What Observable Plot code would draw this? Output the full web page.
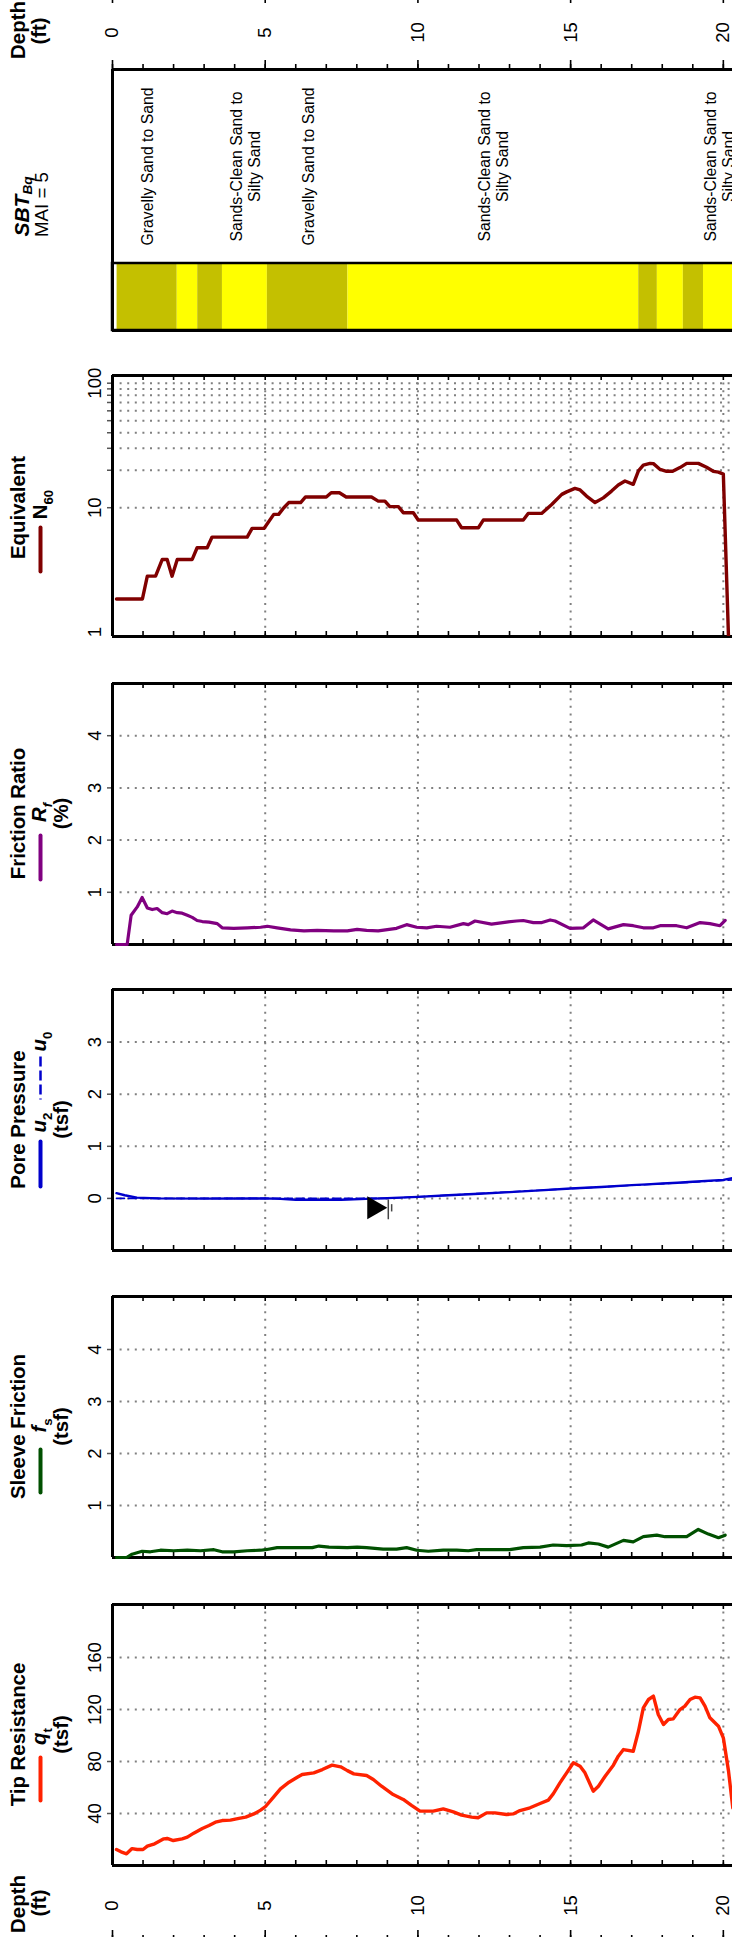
<!DOCTYPE html>
<html><head><meta charset="utf-8">
<script src="https://cdn.jsdelivr.net/npm/d3@7"></script>
<script src="https://cdn.jsdelivr.net/npm/@observablehq/plot@0.6"></script>
<style>
html,body{margin:0;padding:0;background:#fff;}
#chart{position:relative;width:732px;height:1937px;overflow:hidden;background:#fff;}
#chart svg{position:absolute;left:0;overflow:visible;}
</style></head><body><div id="chart"></div>
<script>
// ---------------- DATA (depth in ft, value) ----------------
const depthLabels = [0, 5, 10, 15, 20];
const depthMinor = [0,1,2,3,4,5,6,7,8,9,10,11,12,13,14,15,16,17,18,19,20];
const depthGrid = [5, 10, 15, 20];

const sbtTop    = [0.15, 2.12, 2.79, 3.60, 5.07, 7.71, 17.23, 17.84, 18.69, 19.35];
const sbtBottom = [2.12, 2.79, 3.60, 5.07, 7.71, 17.23, 17.84, 18.69, 19.35, 20.40];
const sbtZone   = ["G","S","G","S","G","S","G","S","G","S"];
const sbtZoneNames = ["G", "S"];
const sbtLabelDepth = [1.15, 4.35, 6.40, 12.47, 19.87];
const sbtLabelText = ["Gravelly Sand to Sand", "Sands-Clean Sand to\nSilty Sand", "Gravelly Sand to Sand", "Sands-Clean Sand to\nSilty Sand", "Sands-Clean Sand to\nSilty Sand"];

const n60Series = [[0.13,1.85],[0.98,1.85],[1.14,2.82],[1.41,2.82],[1.63,3.84],[1.79,3.84],[1.95,2.82],[2.12,3.84],[2.61,3.84],[2.77,4.77],[3.1,4.77],[3.26,5.81],[4.41,5.81],[4.57,6.82],[4.96,6.82],[5.28,8.84],[5.44,8.84],[5.61,10],[5.77,11],[6.16,11],[6.32,12.2],[7.0,12.2],[7.16,13.2],[7.43,13.2],[7.65,12.2],[8.48,12.2],[8.7,11.3],[8.92,11.3],[9.08,10.2],[9.36,10.2],[9.52,9.12],[9.85,9.12],[10.01,7.96],[11.27,7.96],[11.43,6.9],[11.98,6.9],[12.14,7.96],[13.45,7.96],[13.61,9.0],[14.05,9.0],[14.38,10.6],[14.71,12.8],[14.87,13.4],[15.14,14.3],[15.31,13.9],[15.52,12.4],[15.8,11.0],[16.07,12.0],[16.34,13.6],[16.56,15.2],[16.78,16.4],[17.05,15.4],[17.22,19.8],[17.38,22.0],[17.6,22.7],[17.71,22.6],[17.93,20.3],[18.14,19.6],[18.34,19.6],[18.58,21.0],[18.8,22.7],[19.18,22.7],[19.45,21.1],[19.67,19.6],[19.84,19.3],[20.0,18.6],[20.17,0.9]];
const n60Labels = [1, 10, 100];
const n60Grid = [10, 20, 30, 40, 50, 60, 70, 80, 90, 100];

const frSeries = [[0.13,0],[0.48,0],[0.61,0.56],[0.81,0.72],[0.97,0.9],[1.14,0.7],[1.3,0.67],[1.46,0.69],[1.63,0.61],[1.79,0.59],[1.95,0.64],[2.12,0.61],[2.28,0.6],[2.45,0.56],[2.61,0.52],[2.77,0.46],[2.94,0.44],[3.16,0.43],[3.43,0.4],[3.59,0.32],[3.97,0.31],[4.41,0.32],[4.85,0.33],[5.07,0.35],[5.39,0.32],[5.83,0.28],[6.27,0.26],[6.7,0.27],[7.25,0.26],[7.69,0.26],[8.01,0.29],[8.32,0.27],[8.7,0.26],[9.3,0.31],[9.63,0.38],[9.96,0.33],[10.29,0.32],[10.61,0.35],[11.05,0.33],[11.49,0.4],[11.65,0.38],[11.87,0.45],[12.41,0.39],[12.9,0.43],[13.23,0.45],[13.45,0.46],[13.78,0.42],[14.06,0.42],[14.33,0.47],[14.49,0.45],[14.98,0.31],[15.42,0.32],[15.74,0.47],[16.23,0.3],[16.73,0.38],[17.05,0.36],[17.38,0.32],[17.71,0.32],[17.93,0.36],[18.47,0.36],[18.8,0.32],[19.24,0.42],[19.56,0.4],[19.89,0.36],[20.06,0.46]];
const frLabels = [1, 2, 3, 4];

const u2Series = [[0.13,0.1],[0.4,0.06],[0.8,0.015],[1.5,0.0],[3,-0.005],[5,0],[5.5,-0.01],[6,-0.025],[7.5,-0.025],[8.3,-0.01],[9,0.005],[10,0.03],[11,0.06],[12,0.09],[13,0.12],[14,0.155],[15,0.19],[16,0.22],[17,0.255],[17.5,0.27],[18,0.285],[18.5,0.3],[19,0.32],[20,0.355],[20.3,0.39]];
const u0Series = [[0.13,0],[9.0,0],[20.3,0.354]];
const waterTable = [[8.56, -0.18]];
const waterTableMarks = [[9.03, -0.03, -0.41], [9.14, -0.12, -0.26]];
const ppLabels = [0, 1, 2, 3];

const fsSeries = [[0.13,0],[0.46,0],[0.64,0.064],[0.97,0.12],[1.24,0.11],[1.57,0.14],[2.0,0.13],[2.45,0.14],[2.88,0.13],[3.32,0.15],[3.59,0.11],[3.97,0.11],[4.41,0.13],[4.85,0.14],[5.01,0.15],[5.39,0.19],[5.94,0.19],[6.54,0.19],[6.76,0.22],[7.09,0.2],[7.69,0.19],[8.01,0.2],[8.32,0.19],[8.86,0.16],[9.3,0.16],[9.63,0.19],[9.96,0.14],[10.34,0.12],[10.83,0.14],[11.27,0.14],[11.65,0.13],[11.92,0.15],[13.01,0.15],[13.45,0.19],[14.0,0.2],[14.43,0.24],[14.87,0.23],[15.36,0.24],[15.58,0.28],[15.91,0.26],[16.23,0.2],[16.73,0.33],[17.05,0.3],[17.38,0.4],[17.82,0.43],[18.09,0.4],[18.53,0.4],[18.8,0.4],[19.18,0.54],[19.51,0.45],[19.84,0.38],[20.06,0.43]];
const fsLabels = [1, 2, 3, 4];

const qtSeries = [[0.13,12.3],[0.28,10.5],[0.46,9],[0.64,13],[0.81,12.3],[1.0,12.3],[1.14,14.9],[1.38,16.7],[1.68,20.5],[1.79,20.8],[1.99,19.2],[2.28,20.5],[2.45,21.8],[2.66,24.9],[2.94,28.5],[3.16,30.8],[3.37,33.3],[3.59,34.6],[3.86,34.9],[4.14,36.2],[4.36,37.2],[4.63,39.7],[4.85,42.6],[5.01,45.4],[5.23,51.5],[5.5,59],[5.78,64.1],[6.05,67.9],[6.21,70],[6.59,71.3],[6.87,73.8],[7.19,77.2],[7.47,75.9],[7.69,73],[7.9,70.5],[8.32,69.2],[8.54,66.2],[8.81,61],[9.19,54.6],[9.52,50.8],[9.79,46.2],[10.07,41.8],[10.5,41.8],[10.83,43.6],[11.16,41.3],[11.43,38.7],[11.76,37.2],[11.97,36.7],[12.25,40.5],[12.52,40.5],[12.9,39.2],[13.12,39.7],[13.34,42.3],[13.67,44.4],[14.0,47.7],[14.27,50.3],[14.43,55.1],[14.65,63.6],[14.87,71.3],[15.09,79],[15.31,76.4],[15.47,71.3],[15.74,57.2],[15.91,61],[16.13,68.7],[16.4,77.2],[16.56,84.1],[16.73,89.2],[17.05,87.9],[17.22,103.3],[17.38,121.3],[17.55,127.7],[17.71,130.3],[17.87,116.2],[18.04,108.5],[18.2,112.3],[18.36,112.8],[18.58,120],[18.74,122.6],[18.91,127.7],[19.07,129.5],[19.24,129],[19.4,122.6],[19.56,113.6],[19.84,107.2],[20.0,98.2],[20.17,72.6],[20.31,44.4]];
const qtLabels = [40, 80, 120, 160];

// ---------------- LAYOUT ----------------
const FONT = '"Liberation Sans", Arial, Helvetica, sans-serif';
const chart = document.getElementById("chart");
const W = 732, ML = 112, FH = 261, FW = W - ML;
const GRID = "#808080";
const xDomain = [0, 20.3];

function make(top, height, marginTop, y, marks) {
  const svg = Plot.plot({
    width: W, height, marginLeft: ML, marginRight: 0, marginTop,
    marginBottom: height - marginTop - FH,
    x: {domain: xDomain, axis: null},
    y: {...y, axis: null},
    style: {fontFamily: FONT, fontSize: "18.5px", background: "none", overflow: "visible", color: "black"},
    marks
  });
  svg.style.position = "absolute";
  svg.style.top = top + "px";
  svg.style.left = "0px";
  chart.appendChild(svg);
  return svg;
}

function frameMarks(yEnds) {
  return [
    Plot.ruleY(yEnds, {stroke: "black", strokeWidth: 3}),
    Plot.ruleX([0], {stroke: "black", strokeWidth: 3})
  ];
}

function panelMarks(yGrid, yLabels, yEnds, fmt = d => d) {
  return [
    Plot.ruleX(depthGrid, {stroke: GRID, strokeWidth: 2, strokeDasharray: "2,5.6"}),
    Plot.ruleY(yGrid, {stroke: GRID, strokeWidth: 2, strokeDasharray: "2,5.6"}),
    Plot.tickX(depthMinor, {x: d => d, insetBottom: FH - 5, stroke: "black", strokeWidth: 1.6}),
    Plot.tickX(depthMinor, {x: d => d, insetTop: FH - 5, stroke: "black", strokeWidth: 1.6}),
    Plot.tickY(yGrid, {y: d => d, insetLeft: -5, insetRight: FW, stroke: "#555", strokeWidth: 1.5}),
    Plot.text(yLabels, {y: d => d, text: fmt, frameAnchor: "left", dx: -12, rotate: -90, textAnchor: "middle", lineAnchor: "bottom", fontSize: 18.5, fill: "black"}),
    ...frameMarks(yEnds)
  ];
}

function rtext(svg, x, y, parts, size, weight = "bold", subShift = 0.28) {
  const t = d3.select(svg).append("text")
    .attr("transform", `translate(${x},${y}) rotate(-90)`)
    .attr("text-anchor", "middle")
    .attr("font-family", FONT).attr("font-size", size)
    .attr("font-weight", weight).attr("fill", "black");
  let shift = 0;
  for (const p of parts) {
    const o = typeof p === "string" ? {t: p} : p;
    const s = t.append("tspan").text(o.t);
    if (o.italic) s.attr("font-style", "italic");
    if (o.sub) { s.attr("font-size", size * 0.65).attr("dy", size * subShift); shift = size * subShift; }
    else if (shift) { s.attr("dy", -shift); shift = 0; }
  }
}
function swatch(svg, x, y1, y2, color, dash) {
  const l = d3.select(svg).append("line")
    .attr("x1", x).attr("x2", x).attr("y1", y1).attr("y2", y2)
    .attr("stroke", color).attr("stroke-width", 4).attr("stroke-linecap", dash ? "butt" : "round");
  if (dash) l.attr("stroke-dasharray", dash).attr("stroke-width", 2.5);
}

const HS = 20.4;

// ---- SVG A: top depth axis + SBT ----
{
  const top = 0, mt = 69, h = 352;
  const layers = sbtTop.map((t, i) => ({top: t, bottom: sbtBottom[i], zone: sbtZone[i]}));
  const labels = sbtLabelDepth.map((d, i) => ({d, text: sbtLabelText[i]}));
  const svg = Plot.plot({
    width: W, height: h, marginLeft: ML, marginRight: 0, marginTop: mt, marginBottom: h - mt - FH,
    x: {domain: xDomain, axis: null},
    y: {domain: [0, 1], axis: null},
    color: {domain: sbtZoneNames, range: ["#c4c000", "#ffff00"]},
    style: {fontFamily: FONT, fontSize: "18.5px", background: "none", overflow: "visible", color: "black"},
    marks: [
      Plot.rect(layers, {x1: "top", x2: "bottom", fill: "zone", insetTop: 194}),
      Plot.rect([{a: 0, b: 20.4}], {x1: "a", x2: "b", insetTop: 194, fill: "none", stroke: "black", strokeWidth: 2.5}),
      Plot.text(labels, {x: "d", text: "text", frameAnchor: "top", dy: 97, rotate: -90, textAnchor: "middle", lineAnchor: "middle", fontSize: 15.8, lineHeight: 1.14, fill: "black"}),
      Plot.tickX(depthMinor, {x: d => d, insetTop: -5, insetBottom: FH, stroke: "black", strokeWidth: 1.6}),
      Plot.tickX(depthLabels, {x: d => d, insetTop: -9, insetBottom: FH, stroke: "black", strokeWidth: 1.6}),
      Plot.tickX(depthLabels, {x: d => d, insetTop: -69, insetBottom: FH + 66, stroke: "black", strokeWidth: 1.6}),
      Plot.text(depthLabels, {x: d => d, text: d => d, frameAnchor: "top", dy: -37, rotate: -90, lineAnchor: "middle", textAnchor: "middle", fontSize: 18.5, fill: "black"}),
      Plot.ruleY([0, 1], {stroke: "black", strokeWidth: 3}),
      Plot.ruleX([0], {stroke: "black", strokeWidth: 3})
    ]
  });
  svg.style.position = "absolute"; svg.style.top = top + "px"; svg.style.left = "0px";
  chart.appendChild(svg);
  rtext(svg, 25, 30, ["Depth"], HS);
  rtext(svg, 46, 31, ["(ft)"], HS);
  const cy = mt + FH / 2;
  rtext(svg, 29, cy + 7, [{t: "SBT", italic: true}, {t: "Bq", italic: true, sub: true}], 21, "bold", 0.14);
  rtext(svg, 47.5, cy + 5, ["MAI = 5"], 18.7, "normal");
}

// ---- SVG B: N60 ----
{
  const top = 352, mt = 23, h = 308;
  const svg = make(top, h, mt, {type: "log", domain: [0.924, 115.3]}, [
    ...panelMarks(n60Grid, n60Labels, [0.924, 115.3]),
    Plot.line(n60Series, {x: d => d[0], y: d => d[1], stroke: "#800000", strokeWidth: 3.4, clip: true})
  ]);
  const cy = mt + FH / 2;
  rtext(svg, 25, cy + 2, ["Equivalent"], HS);
  rtext(svg, 47, cy - 1, ["N", {t: "60", sub: true}], HS);
  swatch(svg, 40.5, cy + 22, cy + 66, "#800000");
}

// ---- SVG C: Friction ratio ----
{
  const top = 660, mt = 23, h = 306;
  const svg = make(top, h, mt, {domain: [0, 5]}, [
    ...panelMarks(frLabels, frLabels, [0, 5]),
    Plot.line(frSeries, {x: d => d[0], y: d => d[1], stroke: "#800080", strokeWidth: 3.2})
  ]);
  const cy = mt + FH / 2;
  rtext(svg, 25, cy, ["Friction Ratio"], HS);
  rtext(svg, 46, cy - 1, [{t: "R", italic: true}, {t: "f", italic: true, sub: true}], HS);
  swatch(svg, 40.5, cy + 22, cy + 66, "#800080");
  rtext(svg, 68, cy, ["(%)"], HS);
}

// ---- SVG D: Pore pressure ----
{
  const top = 966, mt = 23, h = 307;
  const svg = make(top, h, mt, {domain: [-1, 4.01]}, [
    ...panelMarks(ppLabels, ppLabels, [-1, 4.01]),
    Plot.line(u0Series, {x: d => d[0], y: d => d[1], stroke: "#0000cc", strokeWidth: 1.6, strokeDasharray: "8,4"}),
    Plot.line(u2Series, {x: d => d[0], y: d => d[1], stroke: "#0000cc", strokeWidth: 2.4}),
    Plot.dot(waterTable, {x: d => d[0], y: d => d[1], symbol: "triangle", rotate: 90, r: 8.6, fill: "black", stroke: "none"}),
    Plot.ruleX(waterTableMarks, {x: d => d[0], y1: d => d[1], y2: d => d[2], stroke: "#444", strokeWidth: 1.5})
  ]);
  const cy = mt + FH / 2;
  rtext(svg, 25, cy, ["Pore Pressure"], HS);
  rtext(svg, 46, cy + 3, [{t: "u", italic: true}, {t: "2", sub: true}], HS);
  swatch(svg, 40.5, cy + 22, cy + 67, "#0000cc");
  swatch(svg, 40.5, cy - 63, cy - 20, "#0000cc", "10,4");
  rtext(svg, 46, cy - 78, [{t: "u", italic: true}, {t: "0", sub: true}], HS);
  rtext(svg, 68, cy, ["(tsf)"], HS);
}

// ---- SVG E: Sleeve friction ----
{
  const top = 1273, mt = 23, h = 307;
  const svg = make(top, h, mt, {domain: [0, 5.02]}, [
    ...panelMarks(fsLabels, fsLabels, [0, 5.02]),
    Plot.line(fsSeries, {x: d => d[0], y: d => d[1], stroke: "#005000", strokeWidth: 3.2})
  ]);
  const cy = mt + FH / 2;
  rtext(svg, 25, cy, ["Sleeve Friction"], HS);
  rtext(svg, 46, cy - 1, [{t: "f", italic: true}, {t: "s", sub: true}], HS);
  swatch(svg, 40.5, cy + 23, cy + 66, "#005000");
  rtext(svg, 68, cy, ["(tsf)"], HS);
}

// ---- SVG F: Tip resistance + bottom depth axis ----
{
  const top = 1580, mt = 24, h = 357;
  const svg = make(top, h, mt, {domain: [0, 200.8]}, [
    ...panelMarks(qtLabels, qtLabels, [0, 200.8]),
    Plot.line(qtSeries, {x: d => d[0], y: d => d[1], stroke: "#ff2200", strokeWidth: 3.4}),
    Plot.text(depthLabels, {x: d => d, text: d => d, frameAnchor: "bottom", dy: 40, rotate: -90, lineAnchor: "middle", textAnchor: "middle", fontSize: 18.5, fill: "black"}),
    Plot.tickX(depthLabels, {x: d => d, insetTop: FH + 65, insetBottom: -72, stroke: "black", strokeWidth: 1.6}),
    Plot.tickX(depthMinor, {x: d => d, insetTop: FH + 70, insetBottom: -72, stroke: "black", strokeWidth: 1.6})
  ]);
  const cy = mt + FH / 2;
  rtext(svg, 25, cy, ["Tip Resistance"], HS);
  rtext(svg, 46, cy + 2, [{t: "q", italic: true}, {t: "t", sub: true}], HS);
  swatch(svg, 40.5, cy + 23, cy + 66, "#ff2200");
  rtext(svg, 68, cy, ["(tsf)"], HS);
  rtext(svg, 25, 1904 - top, ["Depth"], HS);
  rtext(svg, 46, 1903 - top, ["(ft)"], HS);
}
</script></body></html>
